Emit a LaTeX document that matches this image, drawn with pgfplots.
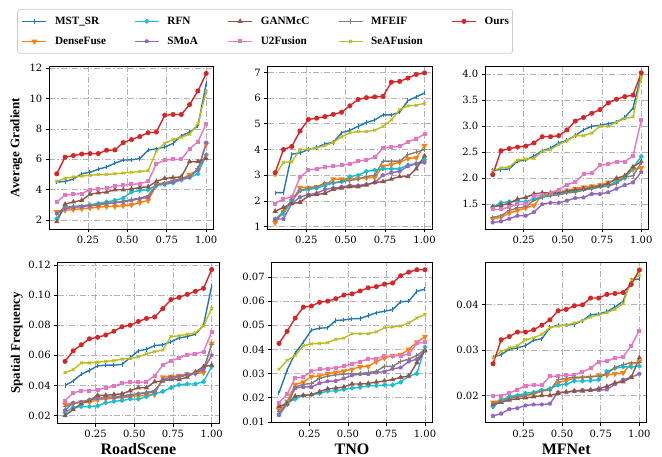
\documentclass[border=0pt]{standalone}
\usepackage{pgfplots}
\pgfplotsset{compat=1.18}
\usepackage{pgfplotstable}
\usepackage{fontspec}
\setmainfont{Liberation Serif}
\newfontfamily\tickfont{DejaVu Serif}

\definecolor{cMST}{HTML}{1F77B4}
\definecolor{cDense}{HTML}{FF7F0E}
\definecolor{cRFN}{HTML}{17BECF}
\definecolor{cSMoA}{HTML}{9467BD}
\definecolor{cGAN}{HTML}{8C564B}
\definecolor{cU2}{HTML}{E377C2}
\definecolor{cMFEIF}{HTML}{7F7F7F}
\definecolor{cSea}{HTML}{BCBD22}
\definecolor{cOurs}{HTML}{D62728}

% ---------- data (rows = series, columns = sorted samples) ----------
\pgfplotstableread{
name a b c d e f g h i j k l m n o p q r s
x 0.0526 0.1053 0.1579 0.2105 0.2632 0.3158 0.3684 0.4211 0.4737 0.5263 0.5789 0.6316 0.6842 0.7368 0.7895 0.8421 0.8947 0.9474 1.0
mst 4.5 4.55 4.7 5.05 5.15 5.35 5.5 5.75 5.95 5.97 6.05 6.6 6.7 6.8 7.05 7.55 7.8 8.2 11.0
dense 2.55 2.65 2.7 2.75 2.8 2.85 2.9 2.9 2.95 3.0 3.15 3.3 4.3 4.4 4.55 4.7 5.0 5.3 7.0
rfn 2.1 2.8 2.85 2.9 3.0 3.1 3.2 3.3 3.45 3.85 3.95 4.0 4.3 4.35 4.45 4.65 4.8 5.05 6.3
smoa 2.45 2.75 2.85 2.9 2.95 3.0 3.1 3.15 3.2 3.3 3.4 3.5 4.3 4.4 4.5 4.7 4.85 5.3 7.1
gan 1.9 3.05 3.2 3.3 3.7 3.8 3.85 4.0 4.0 4.05 4.15 4.2 4.55 4.75 4.8 4.85 5.85 5.85 6.05
u2 3.2 3.65 3.7 3.75 4.0 4.05 4.1 4.25 4.3 4.35 4.4 4.55 5.7 5.95 6.0 6.0 6.7 7.15 8.35
mfeif 2.4 2.85 2.9 2.95 3.0 3.05 3.1 3.15 3.25 3.35 3.45 3.6 4.35 4.45 4.6 4.75 4.85 5.4 6.3
sea 4.55 4.75 4.85 4.9 4.95 5.0 5.0 5.05 5.1 5.15 5.2 5.25 6.55 7.05 7.3 7.45 7.65 8.35 10.45
ours 5.05 6.15 6.25 6.35 6.38 6.38 6.6 6.62 7.1 7.3 7.5 7.75 7.8 8.9 8.95 8.95 9.6 10.5 11.65
}\rawA
\pgfplotstableread{
name a b c d e f g h i j k l m n o p q r s
x 0.0526 0.1053 0.1579 0.2105 0.2632 0.3158 0.3684 0.4211 0.4737 0.5263 0.5789 0.6316 0.6842 0.7368 0.7895 0.8421 0.8947 0.9474 1.0
mst 2.32 2.33 3.82 3.87 4.0 4.08 4.22 4.28 4.65 4.75 4.9 5.05 5.15 5.35 5.35 5.45 5.9 6.05 6.2
dense 1.15 1.6 2.0 2.52 2.52 2.55 2.6 2.85 2.85 2.85 2.87 2.9 2.92 3.35 3.42 3.5 3.65 3.68 4.15
rfn 1.3 1.5 2.0 2.4 2.45 2.5 2.6 2.7 2.75 2.95 3.0 3.15 3.2 3.25 3.25 3.25 3.4 3.45 3.6
smoa 1.3 1.3 1.9 2.15 2.25 2.3 2.45 2.5 2.55 2.6 2.6 2.65 2.72 3.0 3.1 3.15 3.35 3.45 3.5
gan 1.6 1.75 1.9 1.95 2.2 2.25 2.3 2.45 2.5 2.55 2.55 2.62 2.72 2.75 2.85 2.95 2.95 3.25 3.75
u2 1.9 2.08 2.15 2.92 3.2 3.25 3.32 3.35 3.38 3.45 3.55 3.6 3.7 4.05 4.1 4.12 4.3 4.42 4.6
mfeif 1.25 1.6 2.05 2.4 2.5 2.55 2.7 2.7 2.75 2.8 2.85 2.95 3.0 3.55 3.55 3.55 3.8 3.9 4.0
sea 3.0 3.5 3.52 4.0 4.0 4.07 4.15 4.28 4.5 4.65 4.7 4.7 4.75 4.9 5.15 5.55 5.7 5.72 5.8
ours 3.1 4.0 4.12 4.72 5.17 5.22 5.28 5.37 5.45 5.7 5.95 6.02 6.05 6.07 6.62 6.65 6.78 6.92 6.98
}\rawB
\pgfplotstableread{
name a b c d e f g h i j k l m n o p q r s
x 0.0526 0.1053 0.1579 0.2105 0.2632 0.3158 0.3684 0.4211 0.4737 0.5263 0.5789 0.6316 0.6842 0.7368 0.7895 0.8421 0.8947 0.9474 1.0
mst 2.15 2.17 2.18 2.33 2.35 2.43 2.53 2.58 2.68 2.73 2.82 2.93 3.0 3.02 3.05 3.08 3.17 3.35 4.0
dense 1.22 1.25 1.33 1.38 1.43 1.48 1.68 1.7 1.72 1.77 1.8 1.83 1.85 1.87 1.92 1.97 2.02 2.17 2.2
rfn 1.45 1.53 1.55 1.55 1.55 1.6 1.65 1.68 1.72 1.75 1.75 1.8 1.82 1.85 1.85 1.95 2.0 2.2 2.42
smoa 1.15 1.17 1.22 1.28 1.28 1.35 1.5 1.53 1.53 1.57 1.62 1.63 1.7 1.7 1.73 1.8 1.87 1.92 2.12
gan 1.45 1.48 1.52 1.6 1.63 1.7 1.72 1.72 1.72 1.75 1.78 1.8 1.82 1.85 1.9 2.0 2.05 2.22 2.32
u2 1.4 1.4 1.45 1.5 1.5 1.65 1.68 1.72 1.78 1.88 1.92 2.08 2.1 2.25 2.27 2.32 2.32 2.43 3.12
mfeif 1.25 1.28 1.38 1.43 1.45 1.58 1.63 1.67 1.68 1.72 1.73 1.77 1.8 1.83 1.85 1.9 2.02 2.05 2.3
sea 2.15 2.2 2.22 2.35 2.37 2.38 2.52 2.55 2.65 2.72 2.82 2.82 2.87 3.0 3.0 3.08 3.15 3.18 3.95
ours 2.07 2.53 2.57 2.6 2.62 2.68 2.8 2.8 2.82 2.93 3.1 3.17 3.25 3.32 3.45 3.52 3.57 3.6 4.03
}\rawC
\pgfplotstableread{
name a b c d e f g h i j k l m n o p q r s
x 0.0526 0.1053 0.1579 0.2105 0.2632 0.3158 0.3684 0.4211 0.4737 0.5263 0.5789 0.6316 0.6842 0.7368 0.7895 0.8421 0.8947 0.9474 1.0
mst 0.040 0.043 0.0475 0.050 0.053 0.0535 0.0535 0.054 0.0585 0.063 0.064 0.0665 0.067 0.069 0.0715 0.0725 0.074 0.08 0.106
dense 0.0275 0.028 0.029 0.029 0.0305 0.031 0.0315 0.032 0.0325 0.033 0.0335 0.034 0.0455 0.046 0.0465 0.0475 0.048 0.0485 0.068
rfn 0.022 0.0255 0.026 0.026 0.0265 0.0285 0.0295 0.030 0.031 0.031 0.0325 0.0345 0.036 0.0385 0.0405 0.041 0.041 0.0425 0.0525
smoa 0.0235 0.0285 0.029 0.0305 0.0315 0.032 0.032 0.0325 0.033 0.0345 0.035 0.0355 0.044 0.0455 0.046 0.0475 0.048 0.0505 0.060
gan 0.020 0.024 0.028 0.030 0.0335 0.0335 0.034 0.0345 0.0365 0.0385 0.0385 0.0425 0.043 0.044 0.044 0.0455 0.049 0.0525 0.0535
u2 0.030 0.035 0.0365 0.0365 0.037 0.0385 0.0395 0.0415 0.042 0.042 0.0425 0.0465 0.0535 0.0565 0.058 0.0605 0.061 0.0625 0.0755
mfeif 0.026 0.028 0.029 0.0305 0.0315 0.032 0.0325 0.033 0.034 0.0345 0.0355 0.0365 0.0435 0.0445 0.0455 0.047 0.0485 0.051 0.067
sea 0.0485 0.0505 0.055 0.055 0.0555 0.056 0.0565 0.0575 0.058 0.059 0.061 0.0625 0.0635 0.0725 0.073 0.074 0.075 0.0795 0.091
ours 0.056 0.063 0.067 0.071 0.072 0.0735 0.076 0.079 0.08 0.0825 0.0845 0.0855 0.091 0.097 0.0985 0.1005 0.1025 0.1045 0.117
}\rawD
\pgfplotstableread{
name a b c d e f g h i j k l m n o p q r s
x 0.0526 0.1053 0.1579 0.2105 0.2632 0.3158 0.3684 0.4211 0.4737 0.5263 0.5789 0.6316 0.6842 0.7368 0.7895 0.8421 0.8947 0.9474 1.0
mst 0.022 0.0315 0.0385 0.043 0.048 0.0488 0.049 0.052 0.0522 0.0527 0.0528 0.054 0.0552 0.0558 0.0565 0.0597 0.060 0.064 0.065
dense 0.015 0.0185 0.0255 0.0265 0.0288 0.029 0.030 0.0305 0.031 0.0318 0.0328 0.033 0.035 0.0365 0.0375 0.0378 0.040 0.043 0.0453
rfn 0.0133 0.018 0.0195 0.021 0.0213 0.0218 0.0228 0.0228 0.0235 0.024 0.0243 0.025 0.025 0.0253 0.0253 0.0265 0.029 0.030 0.041
smoa 0.0128 0.0175 0.024 0.0245 0.0245 0.026 0.0268 0.027 0.028 0.0293 0.0298 0.0298 0.0305 0.0308 0.032 0.0325 0.035 0.036 0.0395
gan 0.0165 0.0175 0.0207 0.021 0.0213 0.0225 0.0237 0.024 0.0245 0.0257 0.0257 0.026 0.0265 0.027 0.0275 0.0285 0.029 0.0345 0.0395
u2 0.018 0.0215 0.0283 0.0285 0.031 0.0318 0.032 0.0325 0.033 0.034 0.035 0.036 0.0362 0.0372 0.0372 0.0375 0.038 0.0425 0.043
mfeif 0.0145 0.017 0.0245 0.0255 0.026 0.028 0.029 0.0295 0.0298 0.030 0.030 0.0305 0.031 0.033 0.033 0.035 0.036 0.0375 0.040
sea 0.0318 0.0355 0.0375 0.0415 0.0423 0.0425 0.0428 0.0442 0.0447 0.0465 0.0465 0.0465 0.0473 0.049 0.0493 0.0497 0.051 0.053 0.0545
ours 0.0425 0.0475 0.053 0.0575 0.058 0.0595 0.060 0.061 0.0625 0.063 0.0642 0.0655 0.066 0.067 0.0675 0.0705 0.072 0.073 0.073
}\rawE
\pgfplotstableread{
name a b c d e f g h i j k l m n o p q r s
x 0.0526 0.1053 0.1579 0.2105 0.2632 0.3158 0.3684 0.4211 0.4737 0.5263 0.5789 0.6316 0.6842 0.7368 0.7895 0.8421 0.8947 0.9474 1.0
mst 0.0285 0.029 0.0302 0.0305 0.031 0.0322 0.0325 0.035 0.0355 0.0355 0.0357 0.0365 0.0378 0.038 0.0385 0.0395 0.0408 0.0455 0.0457
dense 0.0185 0.019 0.0195 0.0198 0.020 0.0203 0.021 0.0213 0.0228 0.0233 0.0238 0.024 0.024 0.0245 0.0245 0.0248 0.025 0.027 0.0275
rfn 0.0175 0.019 0.0197 0.020 0.0205 0.0207 0.0212 0.0215 0.0223 0.0225 0.0232 0.0232 0.0233 0.0235 0.0253 0.026 0.0263 0.0263 0.0265
smoa 0.0155 0.016 0.017 0.0172 0.0178 0.018 0.018 0.0182 0.0207 0.0207 0.021 0.0212 0.0212 0.0212 0.0213 0.0225 0.0235 0.024 0.0248
gan 0.018 0.0185 0.019 0.0193 0.0195 0.0197 0.020 0.020 0.0205 0.0208 0.021 0.021 0.0212 0.0215 0.022 0.0228 0.023 0.024 0.0283
u2 0.020 0.020 0.0205 0.0213 0.0222 0.0223 0.0223 0.0242 0.0243 0.0245 0.0245 0.0252 0.026 0.0275 0.0276 0.0283 0.0285 0.031 0.0343
mfeif 0.0183 0.0187 0.0193 0.0197 0.020 0.0205 0.021 0.0212 0.0235 0.0238 0.024 0.024 0.0242 0.0242 0.0248 0.0262 0.0268 0.0272 0.0272
sea 0.0283 0.0297 0.0305 0.031 0.0323 0.0327 0.0335 0.035 0.0353 0.0355 0.036 0.0365 0.0373 0.0378 0.0383 0.039 0.0403 0.0455 0.0465
ours 0.027 0.0323 0.033 0.034 0.034 0.0345 0.0355 0.0367 0.0387 0.039 0.0398 0.040 0.0415 0.0415 0.0423 0.0425 0.0427 0.0445 0.0477
}\rawF
\pgfplotstabletranspose[colnames from=name]\tabA\rawA
\pgfplotstabletranspose[colnames from=name]\tabB\rawB
\pgfplotstabletranspose[colnames from=name]\tabC\rawC
\pgfplotstabletranspose[colnames from=name]\tabD\rawD
\pgfplotstabletranspose[colnames from=name]\tabE\rawE
\pgfplotstabletranspose[colnames from=name]\tabF\rawF

\pgfplotsset{
  sMST/.style={color=cMST, mark=|, mark size=2.2pt},
  sDense/.style={color=cDense, mark=triangle*, mark size=2.1pt, mark options={rotate=180}},
  sRFN/.style={color=cRFN, mark=*, mark size=1.9pt},
  sSMoA/.style={color=cSMoA, mark=pentagon*, mark size=1.7pt},
  sGAN/.style={color=cGAN, mark=triangle*, mark size=2.1pt},
  sU2/.style={color=cU2, mark=square*, mark size=1.5pt},
  sMFEIF/.style={color=cMFEIF, mark=+, mark size=2.2pt},
  sSea/.style={color=cSea, mark=x, mark size=2.0pt},
  sOurs/.style={color=cOurs, mark=*, mark size=2.0pt},
  panel/.style={
    scale only axis,
    xmin=0.0053, xmax=1.0474,
    xtick={0.25,0.5,0.75,1}, xticklabels={0.25,0.50,0.75,1.00},
    scaled x ticks=false, scaled y ticks=false,
    tick align=outside, tick pos=left,
    major tick length=3.5pt,
    every tick/.style={black, line width=0.8pt},
    axis line style={black, line width=0.8pt},
    grid=major,
    grid style={color=black!30, line width=0.8pt, dash pattern=on 6pt off 2pt on 1.2pt off 2pt},
    ticklabel style={font=\tickfont\fontsize{10}{12}\selectfont, black},
    every axis plot/.append style={line width=1.4pt, mark options={solid, line width=1pt}},
    legend image code/.code={\draw[mark repeat=2,mark phase=2,##1] plot coordinates {(0pt,0pt) (12pt,0pt) (24pt,0pt)};},
  },
}
\newcommand{\plotall}[1]{%
  \addplot[sMST] table[x=x,y=mst]{#1};
  \addplot[sDense] table[x=x,y=dense]{#1};
  \addplot[sRFN] table[x=x,y=rfn]{#1};
  \addplot[sSMoA] table[x=x,y=smoa]{#1};
  \addplot[sGAN] table[x=x,y=gan]{#1};
  \addplot[sU2] table[x=x,y=u2]{#1};
  \addplot[sMFEIF] table[x=x,y=mfeif]{#1};
  \addplot[sSea] table[x=x,y=sea]{#1};
  \addplot[sOurs] table[x=x,y=ours]{#1};
}
\newcommand{\lt}[2]{\hspace*{8pt}\makebox[#1][l]{#2}}

\begin{document}
\begin{tikzpicture}
\useasboundingbox (0,0) rectangle (662pt,457pt);

% ---- top row: Average Gradient ----
\begin{axis}[panel, at={(49.3pt,391pt)}, anchor=north west, width=164.4pt, height=163pt,
  ymin=1.42, ymax=12.14, ytick={2,4,6,8,10,12}, yticklabels={2,4,6,8,10,12},
  ylabel={Average Gradient},
  every axis y label/.style={at={(axis description cs:-0.2,0.5)}, rotate=90, anchor=center, font=\bfseries\fontsize{13}{15}\selectfont},
  legend columns=5,
  legend style={at={(axis description cs:-0.195,1.35)}, anchor=north west,
    draw=black!20, line width=0.8pt, rounded corners=2.5pt, fill=white,
    inner xsep=4pt, inner ysep=7pt, row sep=10pt,
    font=\bfseries\fontsize{11.2}{13}\selectfont,
    nodes={inner sep=0pt, text height=8pt, text depth=2pt, anchor=west}},
]
\addlegendimage{sMST}\addlegendentry{\lt{79pt}{MST\_SR}}
\addlegendimage{sRFN}\addlegendentry{\lt{60pt}{RFN}}
\addlegendimage{sGAN}\addlegendentry{\lt{77pt}{GANMcC}}
\addlegendimage{sMFEIF}\addlegendentry{\lt{80pt}{MFEIF}}
\addlegendimage{sOurs}\addlegendentry{\lt{24pt}{Ours}}
\addlegendimage{sDense}\addlegendentry{\lt{79pt}{DenseFuse}}
\addlegendimage{sSMoA}\addlegendentry{\lt{60pt}{SMoA}}
\addlegendimage{sU2}\addlegendentry{\lt{77pt}{U2Fusion}}
\addlegendimage{sSea}\addlegendentry{\lt{80pt}{SeAFusion}}
\plotall{\tabA}
\end{axis}

\begin{axis}[panel, at={(267.7pt,391pt)}, anchor=north west, width=164.3pt, height=163pt,
  ymin=0.91, ymax=7.25, ytick={1,2,3,4,5,6,7}, yticklabels={1,2,3,4,5,6,7}]
\plotall{\tabB}
\end{axis}

\begin{axis}[panel, at={(485.3pt,391pt)}, anchor=north west, width=163.4pt, height=163pt,
  ymin=1.025, ymax=4.16, ytick={1.5,2,2.5,3,3.5,4}, yticklabels={1.5,2.0,2.5,3.0,3.5,4.0}]
\plotall{\tabC}
\end{axis}

% ---- bottom row: Spatial Frequency ----
\begin{axis}[panel, at={(57.7pt,194.3pt)}, anchor=north west, width=161.3pt, height=160.6pt,
  ymin=0.0149, ymax=0.1215, ytick={0.02,0.04,0.06,0.08,0.10,0.12}, yticklabels={0.02,0.04,0.06,0.08,0.10,0.12},
  ylabel={Spatial Frequency},
  every axis y label/.style={at={(axis description cs:-0.254,0.5)}, rotate=90, anchor=center, font=\bfseries\fontsize{13}{15}\selectfont},
  xlabel={RoadScene},
  every axis x label/.style={at={(axis description cs:0.5,-0.195)}, anchor=base, font=\bfseries\fontsize{16}{19}\selectfont},
]
\plotall{\tabD}
\end{axis}

\begin{axis}[panel, at={(271.7pt,194.3pt)}, anchor=north west, width=160.6pt, height=160pt,
  ymin=0.0097, ymax=0.0759, ytick={0.01,0.02,0.03,0.04,0.05,0.06,0.07}, yticklabels={0.01,0.02,0.03,0.04,0.05,0.06,0.07},
  xlabel={TNO},
  every axis x label/.style={at={(axis description cs:0.5,-0.197)}, anchor=base, font=\bfseries\fontsize{16}{19}\selectfont},
]
\plotall{\tabE}
\end{axis}

\begin{axis}[panel, at={(485.7pt,194.3pt)}, anchor=north west, width=161pt, height=160pt,
  ymin=0.014, ymax=0.0493, ytick={0.02,0.03,0.04}, yticklabels={0.02,0.03,0.04},
  xlabel={MFNet},
  every axis x label/.style={at={(axis description cs:0.5,-0.197)}, anchor=base, font=\bfseries\fontsize{16}{19}\selectfont},
]
\plotall{\tabF}
\end{axis}
\end{tikzpicture}
\end{document}
